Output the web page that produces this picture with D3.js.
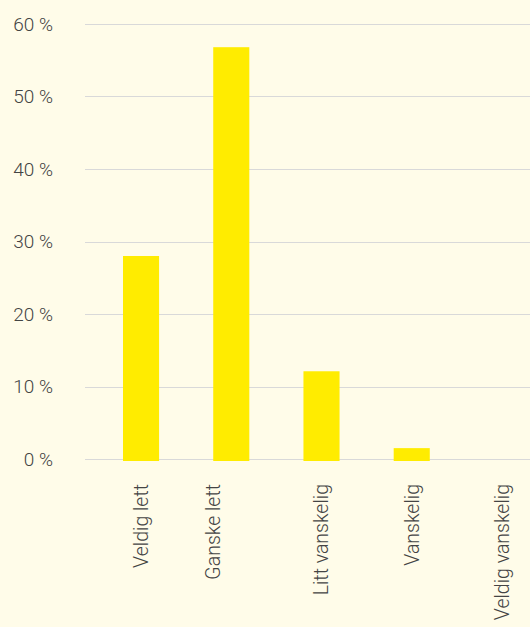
<!DOCTYPE html>
<html>
<head>
<meta charset="utf-8">
<script src="https://cdn.jsdelivr.net/npm/d3@7"></script>
<style>
  html, body { margin: 0; padding: 0; background: #fffce9; }
  svg { display: block; }
  text { font-family: Roboto, "Liberation Sans", sans-serif; font-weight: 300; fill: #444; }
</style>
</head>
<body>
<svg id="chart" width="530" height="627"></svg>
<script>
// answers (share of respondents, %)
const categories = ["Veldig lett", "Ganske lett", "Litt vanskelig", "Vanskelig", "Veldig vanskelig"];
const values = [28.0, 56.8, 12.1, 1.5, 0];
const yTicks = [0, 10, 20, 30, 40, 50, 60];

const svg = d3.select("#chart");
const width = 530, height = 627;

const x = d3.scaleBand()
    .domain(categories)
    .range([123, 520])
    .paddingInner(0.6)
    .paddingOuter(0);

const y = d3.scaleLinear()
    .domain([0, 60])
    .range([459, 24]);

// gridlines
svg.append("g")
    .selectAll("line")
    .data(yTicks)
    .enter().append("line")
    .attr("x1", 85)
    .attr("x2", width)
    .attr("y1", d => Math.round(y(d)) + 0.5)
    .attr("y2", d => Math.round(y(d)) + 0.5)
    .attr("stroke", "#d9d9d9")
    .attr("stroke-width", 1.2);

// y labels
svg.append("g")
    .selectAll("text")
    .data(yTicks)
    .enter().append("text")
    .attr("x", 53)
    .attr("y", d => y(d))
    .attr("dy", "0.35em")
    .attr("text-anchor", "end")
    .style("font-size", "19px")
    .text(d => d + " %");

// bars
svg.append("g")
    .selectAll("rect")
    .data(values)
    .enter().append("rect")
    .attr("x", (d, i) => x(categories[i]))
    .attr("width", x.bandwidth())
    .attr("y", d => y(d))
    .attr("height", d => d > 0 ? y(0) - y(d) + 2 : 0)
    .attr("fill", "#ffec00");

// category labels, rotated (the original sits "Ganske lett" a bit to the left)
const nudge = d => d === "Ganske lett" ? -x.bandwidth() / 2 : 0;
svg.append("g")
    .selectAll("text")
    .data(categories)
    .enter().append("text")
    .attr("transform", d => "translate(" + (x(d) + x.bandwidth() / 2 + nudge(d)) + ",484) rotate(-90)")
    .attr("text-anchor", "end")
    .attr("dy", "0.35em")
    .style("font-size", "19.5px")
    .text(d => d);
</script>
</body>
</html>
